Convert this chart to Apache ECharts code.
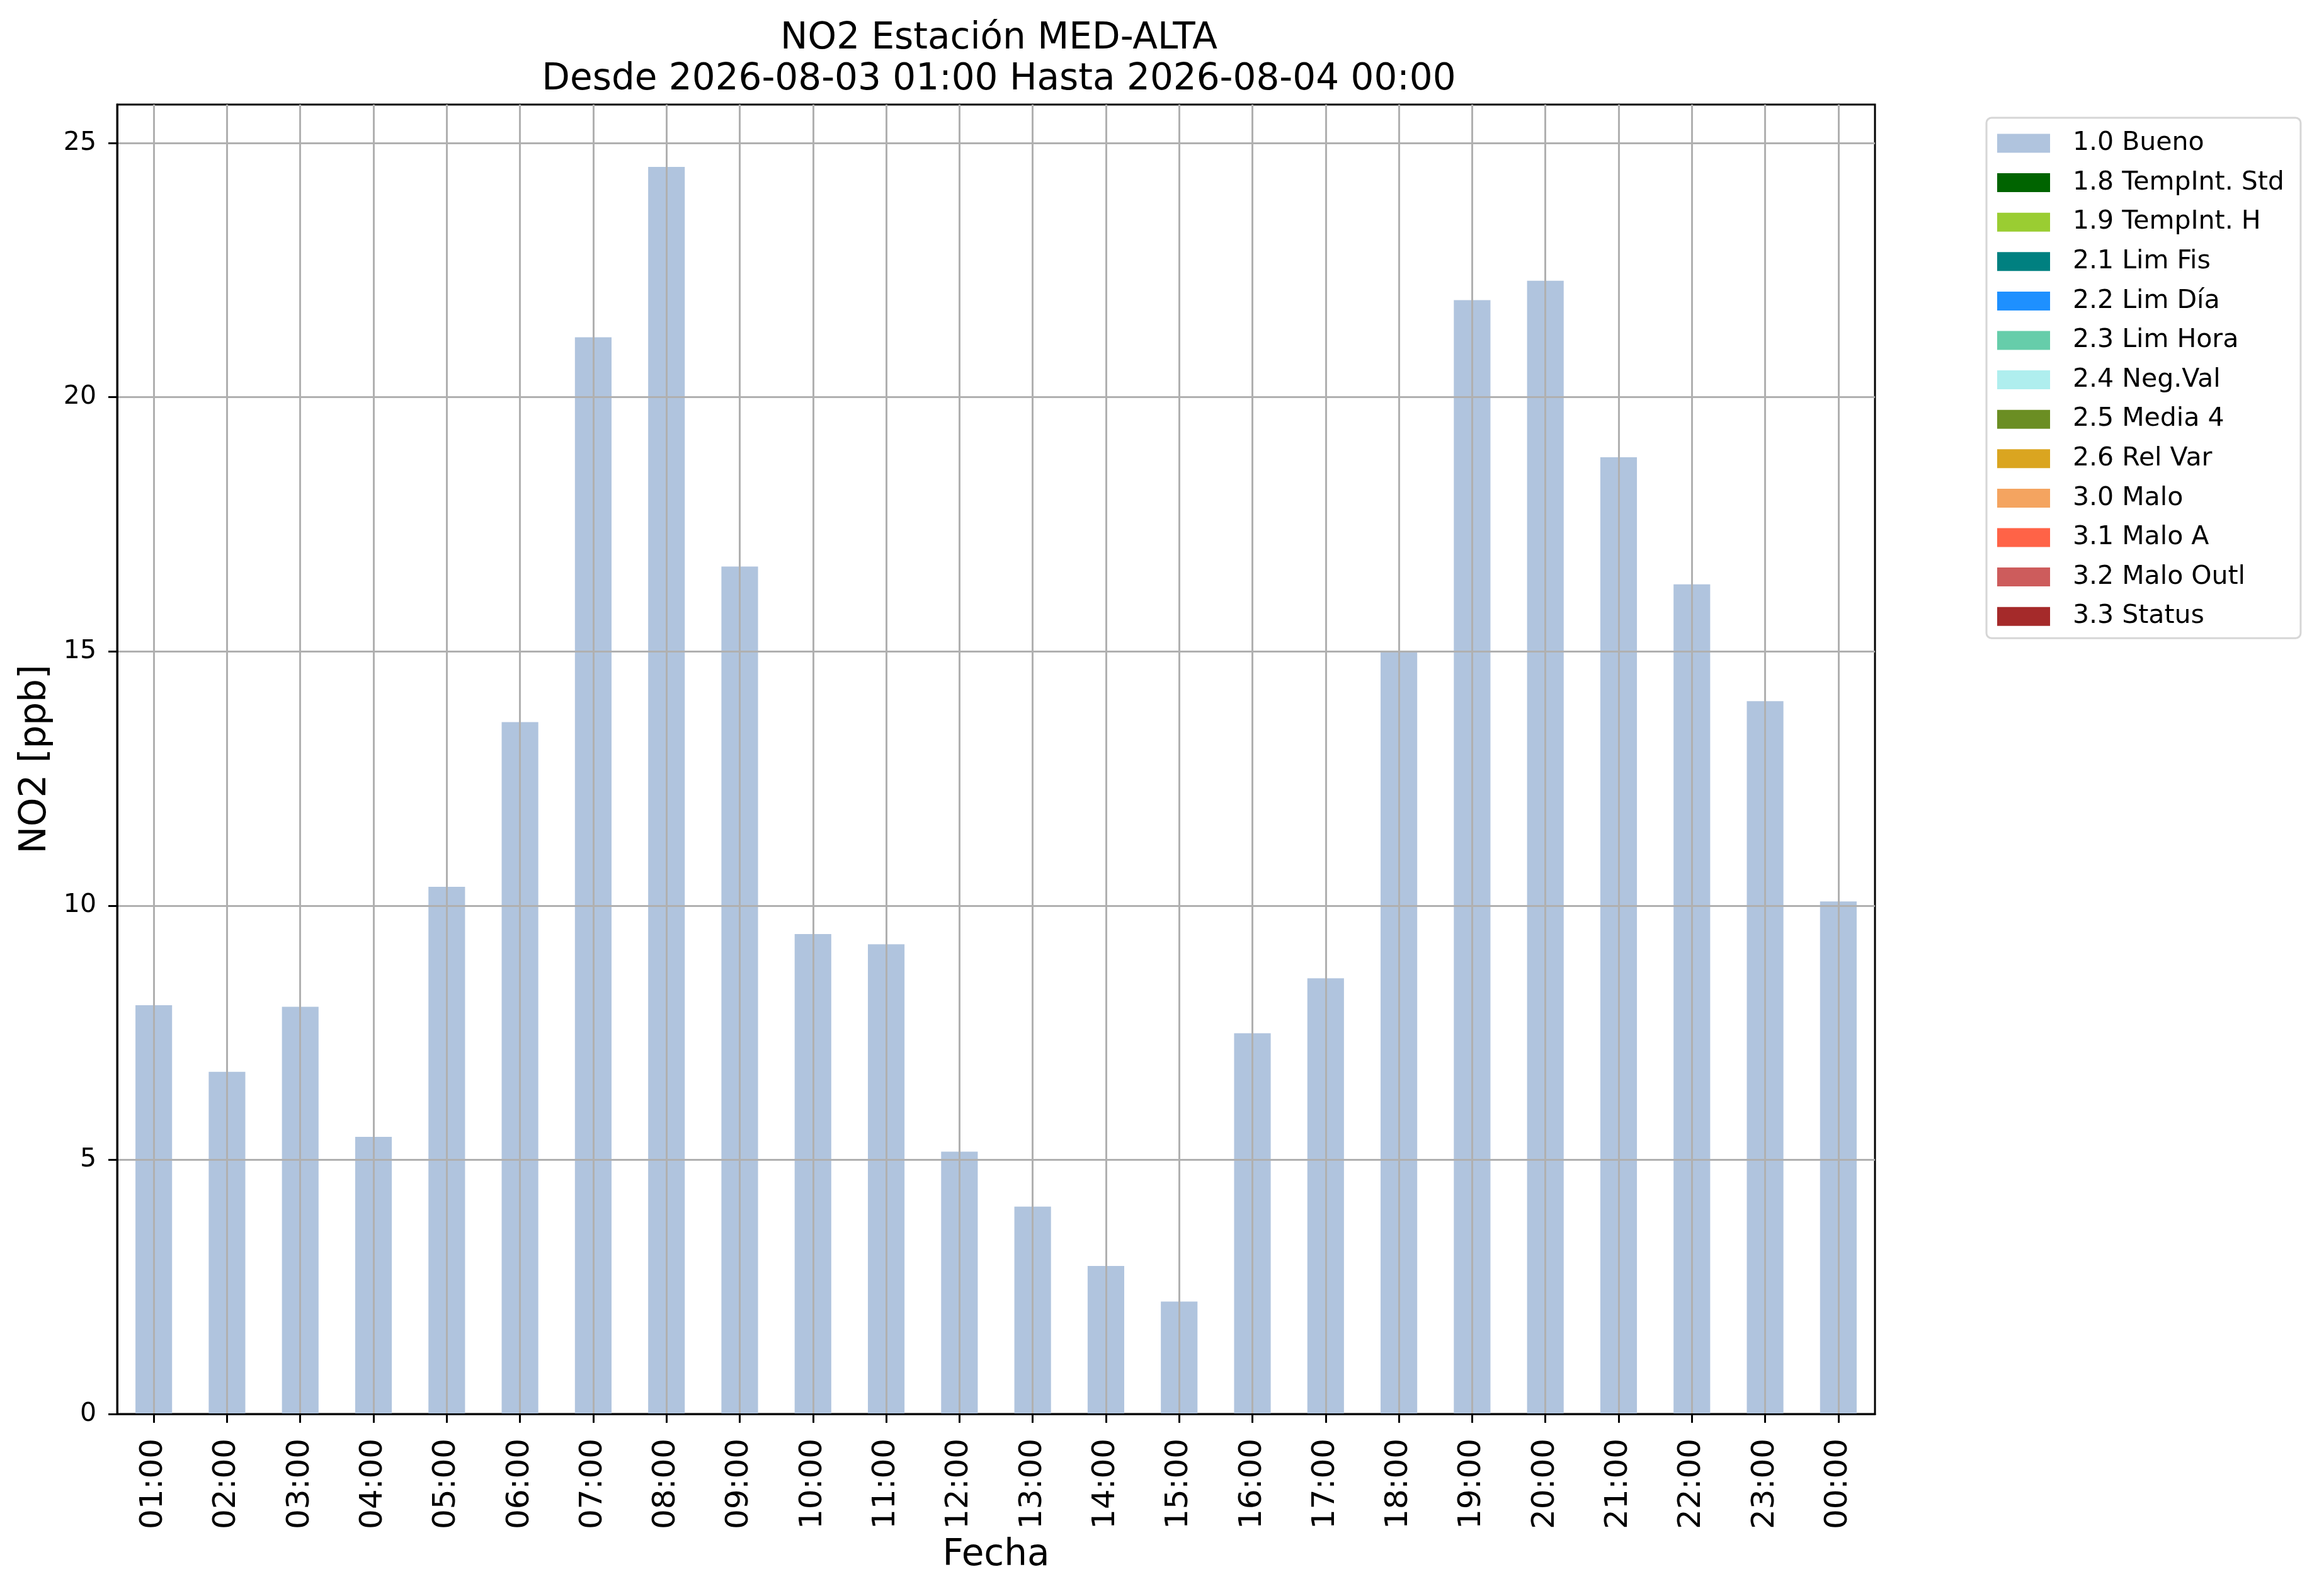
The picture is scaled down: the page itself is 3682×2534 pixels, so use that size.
<!DOCTYPE html>
<html>
<head>
<meta charset="utf-8">
<title>NO2 MED-ALTA</title>
<style>
    *{margin:0;padding:0;}
    html,body{width:100%;height:100%;background:#ffffff;}
    #main{width:3682px;height:2534px;}
</style>
<script src="https://cdn.jsdelivr.net/npm/echarts@6/dist/echarts.min.js"></script>
</head>
<body>
<div id="main"></div>
<script type="text/javascript">
    // horas del periodo
    var horas = ['01:00','02:00','03:00','04:00','05:00','06:00','07:00','08:00','09:00','10:00','11:00','12:00',
                 '13:00','14:00','15:00','16:00','17:00','18:00','19:00','20:00','21:00','22:00','23:00','00:00'];
    // valores validados (1.0 Bueno)
    var valoresBueno = [8.04, 6.73, 8.01, 5.45, 10.37, 13.61, 21.18, 24.53, 16.67, 9.44, 9.24, 5.16,
                        4.08, 2.91, 2.21, 7.49, 8.57, 14.98, 21.91, 22.29, 18.82, 16.32, 14.02, 10.08];
    // resto de banderas, sin datos en este periodo
    var banderas = ['1.8 TempInt. Std','1.9 TempInt. H','2.1 Lim Fis','2.2 Lim Día','2.3 Lim Hora','2.4 Neg.Val',
                    '2.5 Media 4','2.6 Rel Var','3.0 Malo','3.1 Malo A','3.2 Malo Outl','3.3 Status'];
    var coloresBanderas = ['#006400','#9acd32','#008080','#1e90ff','#66cdaa','#afeeee',
                           '#6b8e23','#daa520','#f4a460','#ff6347','#cd5c5c','#a52a2a'];
    var valoresBanderas = [];
    var ticksY = [0, 5, 10, 15, 20, 25];

    var fuente = 'DejaVu Sans';
    var gris = '#b0b0b0';

    var myChart = echarts.init(document.getElementById('main'));

    var series = [{
        name: '1.0 Bueno',
        type: 'bar',
        stack: 'flag',
        barWidth: '50%',
        itemStyle: {color: '#b0c4de'},
        data: valoresBueno,
        // rejilla vertical en el centro de cada hora, encima de las barras
        markLine: {
            silent: true,
            symbol: ['none', 'none'],
            label: {show: false},
            animation: false,
            z: 5,
            lineStyle: {color: gris, width: 3, type: 'solid'},
            emphasis: {disabled: true},
            data: horas.map(function (h) { return {xAxis: h}; })
        }
    }];
    banderas.forEach(function (b, i) {
        series.push({
            name: b,
            type: 'bar',
            stack: 'flag',
            barWidth: '50%',
            itemStyle: {color: coloresBanderas[i]},
            data: valoresBanderas
        });
    });

    var option = {
        backgroundColor: '#ffffff',
        animation: false,
        textStyle: {fontFamily: fuente},
        title: {
            text: 'NO2 Estación MED-ALTA\nDesde 2026-08-03 01:00 Hasta 2026-08-04 00:00',
            left: 1581,
            top: 24,
            textAlign: 'center',
            textStyle: {fontFamily: fuente, fontSize: 58, fontWeight: 'normal', color: '#000', lineHeight: 65}
        },
        legend: {
            orient: 'vertical',
            left: 3154,
            top: 187,
            padding: [20, 26, 14, 17],
            backgroundColor: 'rgba(255,255,255,0.8)',
            borderColor: '#d6d6d6',
            borderWidth: 3,
            borderRadius: 8,
            itemWidth: 84,
            itemHeight: 30,
            itemGap: 21.6,
            icon: 'rect',
            selectedMode: false,
            textStyle: {fontFamily: fuente, fontSize: 41, color: '#000', lineHeight: 29, padding: [0, 0, 0, 31]},
            data: ['1.0 Bueno'].concat(banderas)
        },
        grid: {
            left: 186, right: 705, top: 166, bottom: 289,
            show: true,
            borderColor: '#000',
            borderWidth: 3
        },
        xAxis: {
            type: 'category',
            data: horas,
            z: 6,
            name: 'Fecha',
            nameLocation: 'middle',
            nameGap: 196,
            nameTextStyle: {fontFamily: fuente, fontSize: 58, color: '#000'},
            axisLine: {show: true, lineStyle: {color: '#000', width: 3}},
            axisTick: {show: true, alignWithLabel: true, length: 14, lineStyle: {color: '#000', width: 3}},
            axisLabel: {rotate: 90, margin: 39, fontFamily: fuente, fontSize: 50, color: '#000', interval: 0},
            splitLine: {show: false}
        },
        yAxis: {
            type: 'value',
            min: 0,
            max: Math.max.apply(null, valoresBueno) * 1.05,
            interval: 5,
            z: 4,
            name: 'NO2 [ppb]',
            nameLocation: 'middle',
            nameRotate: 90,
            nameGap: 100,
            nameTextStyle: {fontFamily: fuente, fontSize: 58, color: '#000'},
            axisLine: {show: true, lineStyle: {color: '#000', width: 3}},
            axisTick: {show: true, length: 14, lineStyle: {color: '#000', width: 3}, customValues: ticksY},
            axisLabel: {margin: 33, fontFamily: fuente, fontSize: 41, color: '#000', customValues: ticksY},
            splitLine: {show: true, lineStyle: {color: gris, width: 3}}
        },
        series: series
    };
    myChart.setOption(option);
</script>
</body>
</html>
